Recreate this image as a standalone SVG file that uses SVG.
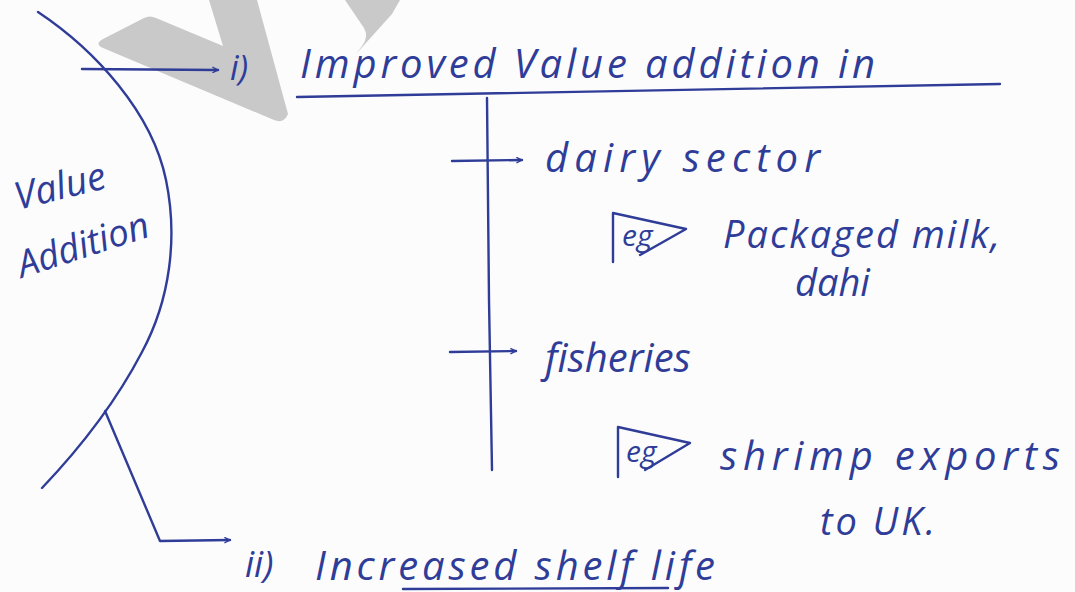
<svg xmlns="http://www.w3.org/2000/svg" width="1075" height="592" viewBox="0 0 1075 592">
  <defs>
    <style>
      .ink { fill: none; stroke: #2f3d98; stroke-width: 2.4; stroke-linecap: round; stroke-linejoin: round; }
      .txt { fill: #2f3d98; font-family: "Open Sans", "Noto Sans", "DejaVu Sans", sans-serif; font-style: italic; font-weight: 400; }
      .mark { fill: #c9c9c9; }
    </style>
    <marker id="tip" viewBox="0 0 10 10" refX="9" refY="5" markerWidth="7" markerHeight="7" orient="auto" markerUnits="userSpaceOnUse">
      <path d="M1,1 L9,5 L1,9" fill="none" stroke="#2f3d98" stroke-width="2"/>
    </marker>
  </defs>

  <rect width="1075" height="592" fill="#fcfcfc"/>

  <!-- grey watermark fragments along the top edge -->
  <g id="watermark">
    <path class="mark" d="M209,0 L223,46 L156,18 Q150,15 144,18 L103,39 Q94,44 103,48 L274,120 Q284,124 288,114 L257,0 Z"/>
    <path class="mark" d="M345,0 L364,28 Q369,37 362,46 L356,54 L392,14 L400,0 Z"/>
  </g>

  <!-- connectors -->
  <g id="connectors">
    <path class="ink" d="M38,12 C95,50 152,112 166,180 C178,238 170,300 142,352 C118,398 82,446 42,488"/>
    <path class="ink" d="M82,69 L218,70" marker-end="url(#tip)"/>
    <path class="ink" d="M105,411 L160,541 L230,540" marker-end="url(#tip)"/>
    <path class="ink" d="M297,97 Q650,92 1000,84"/>
    <path class="ink" d="M487,98 L489,300 L492,470"/>
    <path class="ink" d="M452,161 L522,160" marker-end="url(#tip)"/>
    <path class="ink" d="M450,352 L516,351" marker-end="url(#tip)"/>
    <path class="ink" d="M403,589 L668,588"/>
  </g>

  <!-- central label -->
  <g id="node-value-addition">
    <text class="txt" font-size="38" transform="translate(18,210) rotate(-14)">Value</text>
    <text class="txt" font-size="37" transform="translate(22,278) rotate(-18)">Addition</text>
  </g>

  <!-- branch i -->
  <g id="node-improved">
    <text class="txt" x="230" y="80" font-size="34">i)</text>
    <text class="txt" x="300" y="78" font-size="40" textLength="575" lengthAdjust="spacing">Improved Value addition in</text>
  </g>

  <g id="node-dairy">
    <text class="txt" x="545" y="172" font-size="40" textLength="275" lengthAdjust="spacing">dairy sector</text>
  </g>

  <g id="node-dairy-eg">
    <path class="ink" d="M613,262 L613,213 L686,229 L640,255"/>
    <text class="txt" x="622" y="246" font-size="30">eg</text>
    <text class="txt" x="723" y="248" font-size="38" textLength="277" lengthAdjust="spacing">Packaged milk,</text>
    <text class="txt" x="795" y="296" font-size="38">dahi</text>
  </g>

  <g id="node-fisheries">
    <text class="txt" x="545" y="372" font-size="40">fisheries</text>
  </g>

  <g id="node-fisheries-eg">
    <path class="ink" d="M618,477 L618,427 L690,443 L645,470"/>
    <text class="txt" x="626" y="462" font-size="30">eg</text>
    <text class="txt" x="720" y="470" font-size="40" textLength="340" lengthAdjust="spacing">shrimp exports</text>
    <text class="txt" x="820" y="535" font-size="38" textLength="115" lengthAdjust="spacing">to UK.</text>
  </g>

  <!-- branch ii -->
  <g id="node-shelf-life">
    <text class="txt" x="245" y="577" font-size="36">ii)</text>
    <text class="txt" x="315" y="580" font-size="40" textLength="400" lengthAdjust="spacing">Increased shelf life</text>
  </g>
</svg>
